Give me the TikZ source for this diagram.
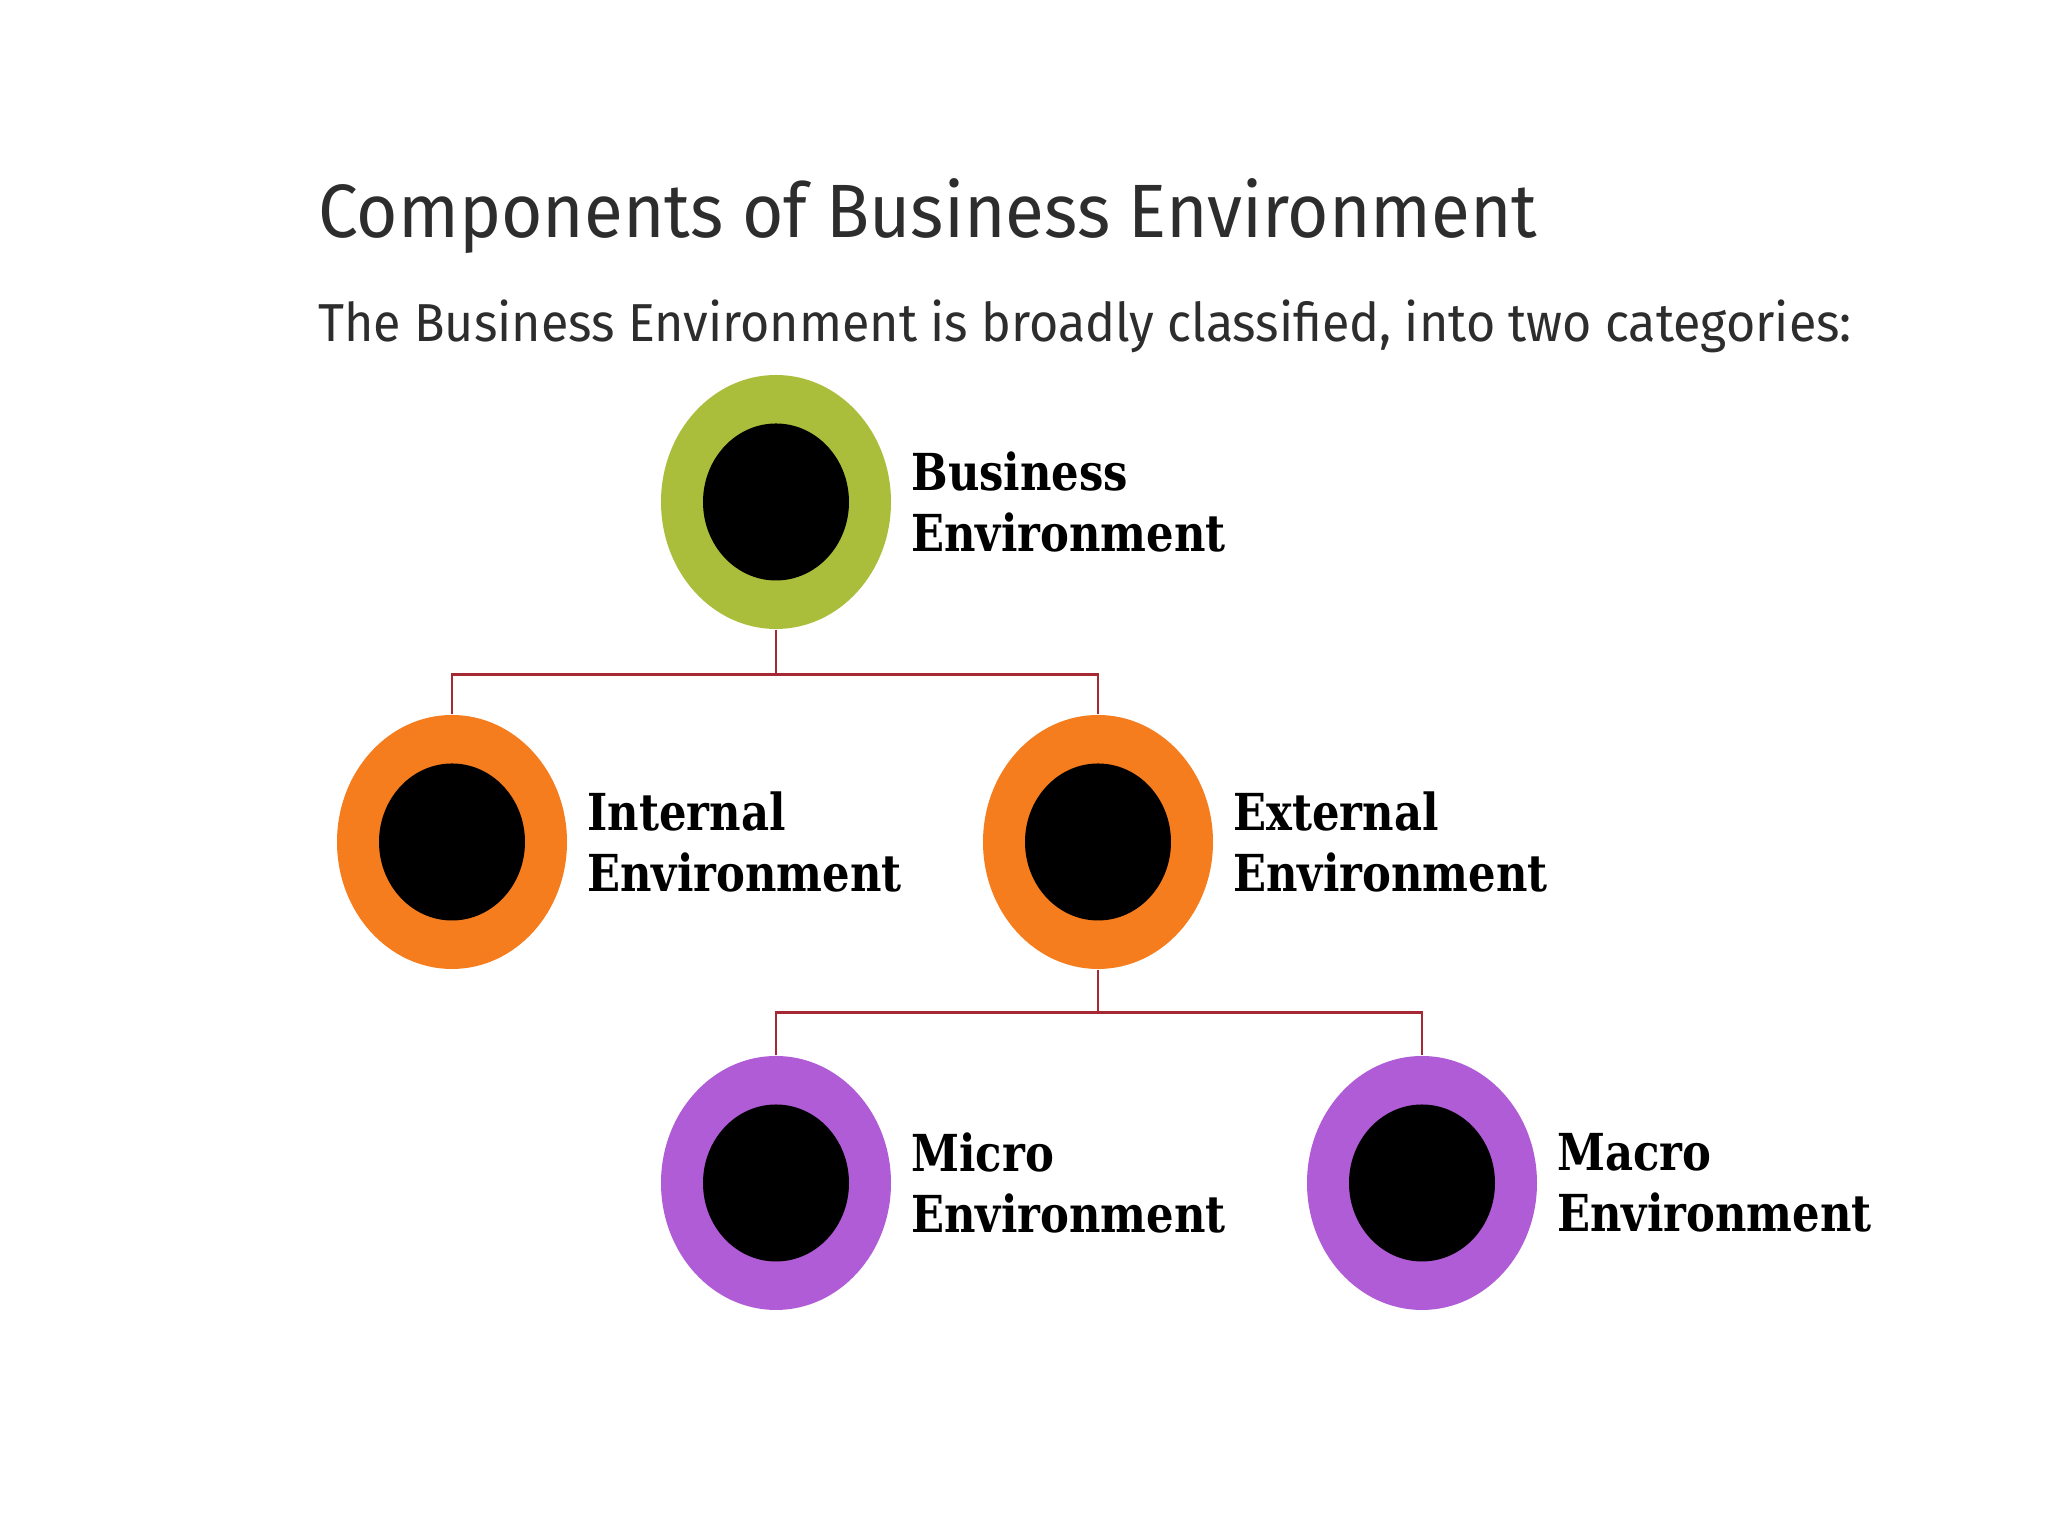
\documentclass[tikz,border=0pt]{standalone}
\definecolor{ringgreen}{RGB}{170,190,60}
\definecolor{ringorange}{RGB}{245,125,30}
\definecolor{ringpurple}{RGB}{176,92,214}
\definecolor{linkred}{RGB}{165,40,50}
\definecolor{titlegray}{RGB}{45,45,45}
\usepackage{fontspec}
\setmainfont{Fira Sans}[FakeStretch=0.94]
\newfontfamily\lblfont{DejaVu Serif}[FakeStretch=0.85]
\usetikzlibrary{positioning,shapes.geometric}

\begin{document}
\begin{tikzpicture}[
    ring/.style={ellipse, minimum width=2.30cm, minimum height=2.54cm, inner sep=0pt},
    core/.style={ellipse, fill=black, minimum width=1.46cm, minimum height=1.57cm, inner sep=0pt},
    lbl/.style={anchor=west, align=left, inner sep=0pt, font=\lblfont\bfseries\fontsize{14.5}{17.4}\selectfont},
    link/.style={draw=linkred, line width=0.8pt}
]
    \fill[white] (0,0) rectangle (20.48,15.36);
    \useasboundingbox (0,0) rectangle (20.48,15.36);

    % Heading
    \node[anchor=base west, text=titlegray, font=\fontsize{21.5}{26}\selectfont] (title) at (3.06,12.98) {Components of Business Environment};
    \node[anchor=base west, text=titlegray, font=\fontsize{15.2}{18}\selectfont] (sub) at (3.06,11.94) {The Business Environment is broadly classified, into two categories:};

    % Rings with labels
    \foreach \nm/\x/\y/\col/\word in {be/7.76/10.34/ringgreen/Business, int/4.52/6.94/ringorange/Internal, ext/10.98/6.94/ringorange/External, mic/7.76/3.53/ringpurple/Micro, mac/14.22/3.53/ringpurple/Macro} {
        \node[ring, fill=\col] (\nm) at (\x,\y) {};
        \node[core] (\nm-in) at (\nm) {};
        \node[lbl, right=0.19cm of \nm] (\nm-lbl) {\word\\Environment};
    }

    % Business -> internal / external
    \draw[link] (be.south) -- ++(0,-0.45) coordinate (split1);
    \draw[link] (int.north) |- (split1) -| (ext.north);

    % External -> micro / macro
    \draw[link] (ext.south) -- ++(0,-0.43) coordinate (split2);
    \draw[link] (mic.north) |- (split2) -| (mac.north);
\end{tikzpicture}
\end{document}
